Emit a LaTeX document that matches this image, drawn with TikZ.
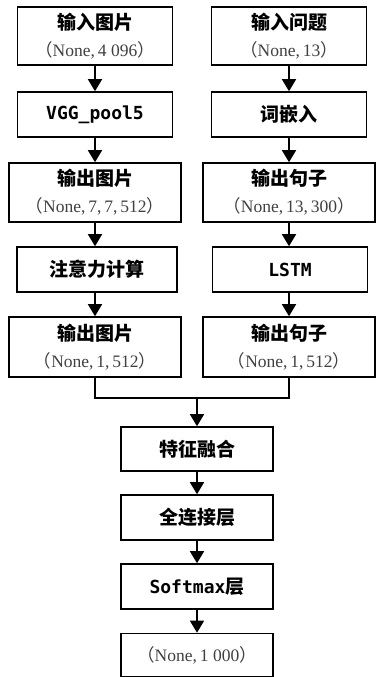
\documentclass[tikz,border=0pt]{standalone}
\usepackage{fontspec}
\usetikzlibrary{positioning,arrows.meta}
\setmainfont{Liberation Serif}
\newfontfamily\cjk{Noto Sans CJK SC}
\newfontfamily\mono{DejaVu Sans Mono}
\newcommand{\ttl}[1]{{\cjk\bfseries #1}}
\newcommand{\shp}[1]{{\color{black!75}\fontsize{17.5}{27}\selectfont{\cjk （}#1{\cjk ）}}}
\newcommand{\lyr}[1]{{\mono\bfseries\fontsize{18}{27}\selectfont #1}}
\tikzset{
  box/.style={draw, line width=1.6pt, minimum width=155pt, minimum height=45pt, inner sep=0pt, align=center, font=\fontsize{19}{27}\selectfont},
  wbox/.style={box, minimum width=172pt, minimum height=59pt},
  arr/.style={line width=1.6pt, -{Triangle[width=14pt,length=12pt]}},
}

\begin{document}
\begin{tikzpicture}[x=1pt,y=-1pt]
  \useasboundingbox (0,0) rectangle (375,677);
  % image branch
  \node[box, minimum height=58pt] (inimg) at (95,36) {\ttl{输入图片}\\\shp{None,\,4~096}};
  \node[box] (vgg) at (95,114.5) {\lyr{VGG\_pool5}};
  \node[wbox] (outimg) at (95,192.5) {\ttl{输出图片}\\\shp{None,\,7,\,7,\,512}};
  \node[box, minimum width=160pt] (att) at (97,269.5) {\ttl{注意力计算}};
  \node[wbox, minimum height=60pt] (attimg) at (95,347) {\ttl{输出图片}\\\shp{None,\,1,\,512}};
  % question branch
  \node[box, minimum height=58pt] (inq) at (289,36) {\ttl{输入问题}\\\shp{None,\,13}};
  \node[box] (emb) at (289,114.5) {\ttl{词嵌入}};
  \node[wbox] (outsen) at (289,192.5) {\ttl{输出句子}\\\shp{None,\,13,\,300}};
  \node[box] (lstm) at (290,269.5) {\lyr{LSTM}};
  \node[wbox, minimum height=60pt] (lstmsen) at (289,347) {\ttl{输出句子}\\\shp{None,\,1,\,512}};
  % fusion and output
  \coordinate (merge) at (197,398);
  \node[box, minimum width=152pt, minimum height=44pt] (fuse) at (197,449) {\ttl{特征融合}};
  \node[box, minimum width=152pt] (fc) at (197,517.5) {\ttl{全连接层}};
  \node[box, minimum width=152pt] (soft) at (197,586.5) {\lyr{Softmax}\ttl{层}};
  \node[box, minimum width=152pt, minimum height=43pt] (out) at (197,655) {\shp{None,\,1~000}};

  \draw[arr] (inimg) -- (vgg);
  \draw[arr] (vgg) -- (outimg);
  \draw[arr] (outimg) -- (outimg.south |- att.north);
  \draw[arr] (outimg.south |- att.south) -- (attimg);
  \draw[arr] (inq) -- (emb);
  \draw[arr] (emb) -- (outsen);
  \draw[arr] (outsen) -- (outsen.south |- lstm.north);
  \draw[arr] (outsen.south |- lstm.south) -- (lstmsen);
  \draw[line width=1.6pt] (attimg.south) |- (merge) -| (lstmsen.south);
  \draw[arr] (merge) -- (fuse);
  \draw[arr] (fuse) -- (fc);
  \draw[arr] (fc) -- (soft);
  \draw[arr] (soft) -- (out);
\end{tikzpicture}
\end{document}
